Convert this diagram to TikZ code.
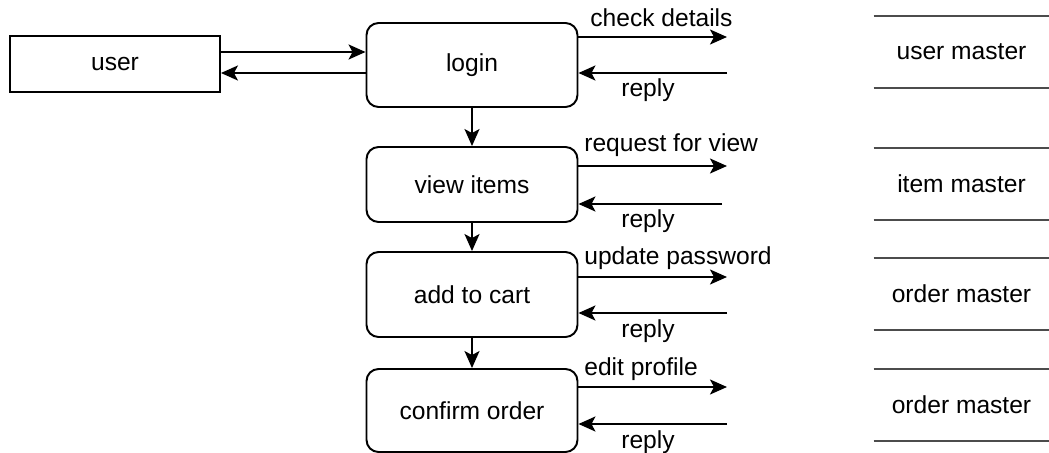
\documentclass[tikz,border=0pt]{standalone}
\usepackage{fontspec}
\setmainfont{Liberation Sans}
\usetikzlibrary{arrows.meta}
\begin{document}
\begin{tikzpicture}%
	[x=0.02cm, y=-0.02cm,
	every node/.style={font=\fontsize{14}{17}\selectfont},
	entity/.style={draw, line width=1.1pt, minimum width=4.2cm, minimum height=1.12cm},
	process/.style={draw, line width=1.1pt, rounded corners=0.24cm, minimum width=4.22cm},
	store/.style={minimum width=3.5cm, minimum height=1.44cm},
	flow/.style={line width=1.1pt, -{Stealth[length=0.34cm, width=0.3cm, inset=0.08cm]}},
	label/.style={anchor=west, inner sep=0pt}]
\useasboundingbox (0,0) rectangle (1049,453);
%%
%% Drawing the entity and the processes
%%
\node[entity] (user) at (115,64) {user};
\node[process, minimum height=1.68cm] (login) at (472,65) {login};
\node[process, minimum height=1.5cm] (view) at (472,184.5) {view items};
\node[process, minimum height=1.7cm] (cart) at (472,294.5) {add to cart};
\node[process, minimum height=1.66cm] (confirm) at (472,410.5) {confirm order};
%%
%% Drawing the data stores
%%
\node[store] (usermaster) at (961.5,52) {user master};
\node[store] (itemmaster) at (961.5,184) {item master};
\node[store] (ordermaster) at (961.5,294) {order master};
\node[store] (ordermastertwo) at (961.5,405) {order master};
\foreach \s in {usermaster,itemmaster,ordermaster,ordermastertwo}
	\draw[line width=1.1pt, gray!60!black] (\s.north west) -- (\s.north east) (\s.south west) -- (\s.south east);
%%
%% Drawing the flows between user and login
%%
\draw[flow] (user.east |- 0,52) -- (login.west |- 0,52);
\draw[flow] (login.west |- 0,73) -- (user.east |- 0,73);
%%
%% Drawing the flows down the processes
%%
\draw[flow] (login) -- (view);
\draw[flow] (view) -- (cart);
\draw[flow] (cart) -- (confirm);
%%
%% Drawing the requests and replies
%%
\coordinate (req1) at (727,37);
\coordinate (rep1) at (727,73);
\coordinate (req2) at (727,166);
\coordinate (rep2) at (722,204);
\coordinate (req3) at (727,277);
\coordinate (rep3) at (727,313);
\coordinate (req4) at (727,387);
\coordinate (rep4) at (727,424);
\draw[flow] (login.east |- req1) -- (req1);
\draw[flow] (rep1) -- (login.east |- rep1);
\draw[flow] (view.east |- req2) -- (req2);
\draw[flow] (rep2) -- (view.east |- rep2);
\draw[flow] (cart.east |- req3) -- (req3);
\draw[flow] (rep3) -- (cart.east |- rep3);
\draw[flow] (confirm.east |- req4) -- (req4);
\draw[flow] (rep4) -- (confirm.east |- rep4);
%%
%% Drawing the labels
%%
\node[label] (lreq1) at (590,18) {check details};
\node[label] (lreq2) at (584,145) {request for view};
\node[label] (lreq3) at (584,258) {update password};
\node[label] (lreq4) at (584,369) {edit profile};
\node (lrep1) at (648,90) {reply};
\node (lrep2) at (648,221) {reply};
\node (lrep3) at (648,331) {reply};
\node (lrep4) at (648,442) {reply};
%%
\end{tikzpicture}
\end{document}
